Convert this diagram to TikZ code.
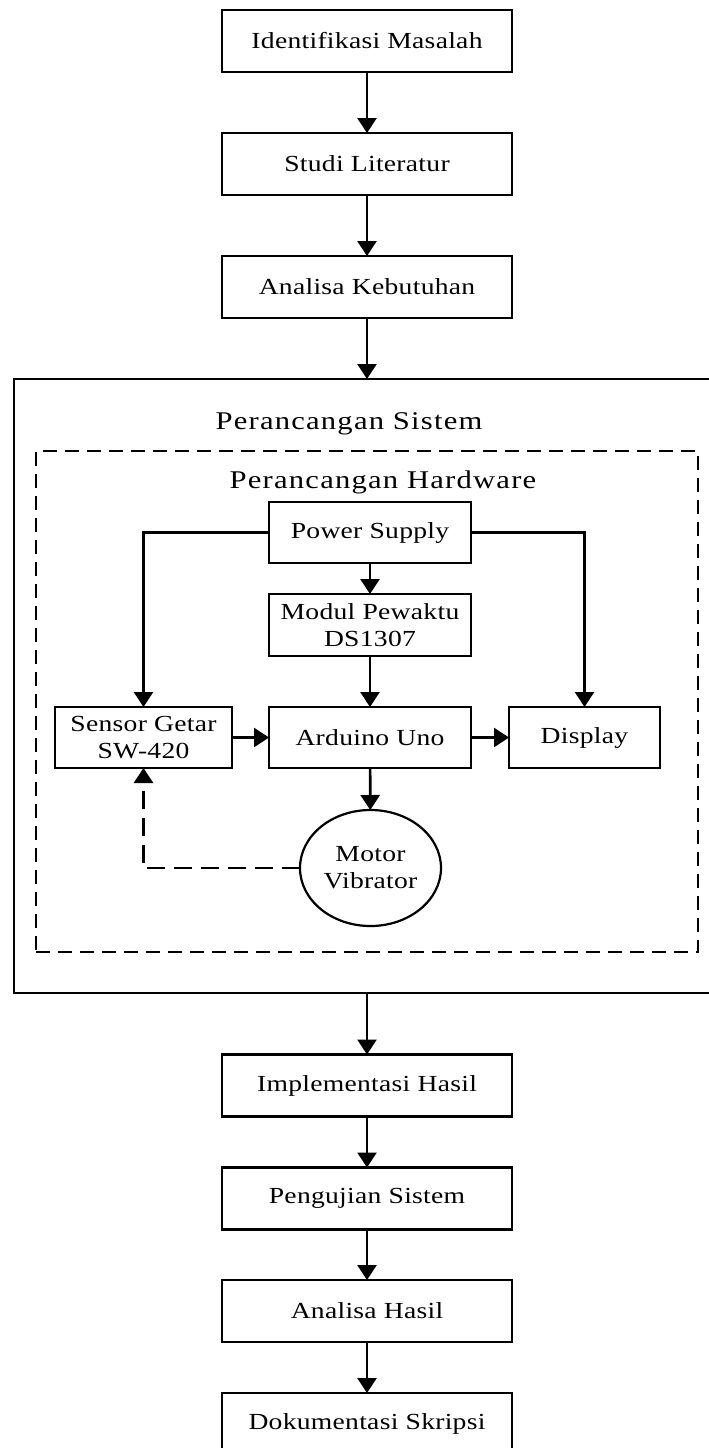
\documentclass[tikz,border=0pt]{standalone}
\usepackage{graphicx}
\usepackage{fontspec}
\setmainfont{Liberation Serif}[LetterSpace=1]
\newfontfamily\titlefont{Liberation Serif}[LetterSpace=4]
\usetikzlibrary{arrows.meta,shapes.geometric}
\newcommand{\sx}[1]{\scalebox{1.2}[1]{#1}}
\begin{document}
\begin{tikzpicture}[x=1pt,y=-1pt,
  every node/.style={inner sep=0pt, outer sep=0pt},
  flowbox/.style={draw, line width=2.1pt, minimum width=290pt, minimum height=62pt,
    font=\fontsize{23}{27}\selectfont},
  hwbox/.style={draw, line width=2.2pt, minimum height=61pt, align=center,
    font=\fontsize{23}{27}\selectfont},
  title/.style={anchor=base, font=\titlefont\fontsize{25.5}{30}\selectfont},
  conn/.style={line width=2.7pt, -{Triangle[length=15pt,width=19pt]}},
  fbconn/.style={line width=2.7pt, dash pattern=on 18pt off 9pt, -{Triangle[length=15pt,width=19pt]}},
]
\useasboundingbox (0,0) rectangle (709,1448);
% flow boxes
\node[flowbox] (b1) at (367,41) {\sx{Identifikasi Masalah}};
\node[flowbox] (b2) at (367,164) {\sx{Studi Literatur}};
\node[flowbox] (b3) at (367,287) {\sx{Analisa Kebutuhan}};
% system container
\node[draw, line width=2.1pt, minimum width=716pt, minimum height=614pt] (sys) at (372,686) {};
\node[title] (tsys) at (349,429) {\sx{Perancangan Sistem}};
\node[draw, line width=1.7pt, dash pattern=on 14pt off 8pt, minimum width=662pt, minimum height=501pt] (hw) at (367,701.5) {};
\node[title] (thw) at (383,488) {\sx{Perancangan Hardware}};
% hardware blocks
\node[hwbox, minimum width=202pt] (ps) at (370,532.5) {\sx{Power Supply}};
\node[hwbox, minimum width=202pt, minimum height=62pt] (rtc) at (370,625) {\sx{Modul Pewaktu}\\\sx{DS1307}};
\node[hwbox, minimum width=177pt] (sen) at (143.5,737.5) {\sx{Sensor Getar}\\\sx{SW-420}};
\node[hwbox, minimum width=202pt] (ard) at (370,737.5) {\sx{Arduino Uno}};
\node[hwbox, minimum width=151pt] (dsp) at (584.5,737.5) {\sx{Display}};
\node[draw, ellipse, line width=2.2pt, minimum width=141pt, minimum height=116pt, align=center,
  font=\fontsize{23}{27}\selectfont] (mot) at (370.5,868) {\sx{Motor}\\\sx{Vibrator}};
% lower flow boxes
\node[flowbox] (b4) at (367,1085.5) {\sx{Implementasi Hasil}};
\node[flowbox] (b5) at (367,1198.5) {\sx{Pengujian Sistem}};
\node[flowbox] (b6) at (367,1311) {\sx{Analisa Hasil}};
\node[flowbox] (b7) at (367,1424) {\sx{Dokumentasi Skripsi}};
% connectors
\draw[conn] (b1) -- (b2);
\draw[conn] (b2) -- (b3);
\draw[conn] (b3) -- (b3 |- sys.north);
\draw[conn] (b3 |- sys.south) -- (b4);
\draw[conn] (b4) -- (b5);
\draw[conn] (b5) -- (b6);
\draw[conn] (b6) -- (b7);
\draw[conn] (ps.west) -| (sen.north);
\draw[conn] (ps.east) -| (dsp.north);
\draw[conn] (ps) -- (rtc);
\draw[conn] (rtc) -- (ard);
\draw[conn] (sen) -- (ard);
\draw[conn] (ard) -- (dsp);
\draw[conn] (ard) -- (mot);
\draw[fbconn] (mot.west) -| (sen.south);
\end{tikzpicture}
\end{document}
